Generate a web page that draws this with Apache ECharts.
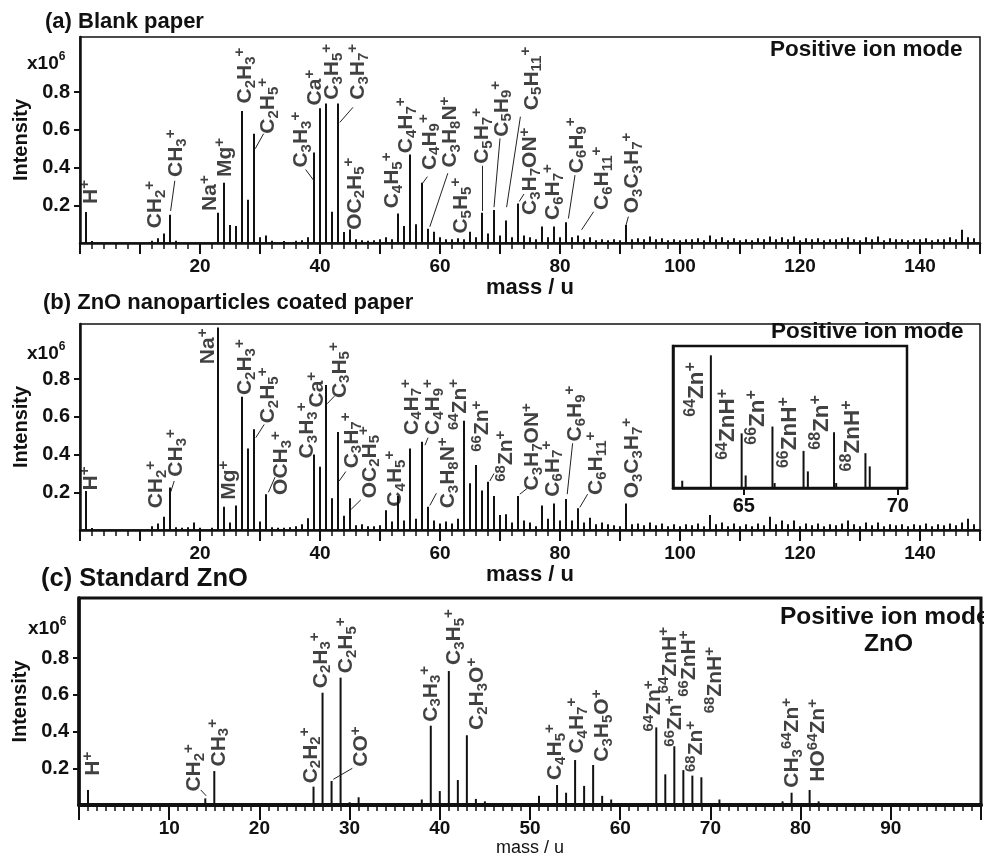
<!DOCTYPE html>
<html>
<head>
<meta charset="utf-8">
<script src="https://cdn.jsdelivr.net/npm/echarts@6.0.0/dist/echarts.min.js"></script>
<style>
  html, body { margin: 0; padding: 0; background: #fff; }
  #chart { width: 984px; height: 858px; }
</style>
</head>
<body>
<div id="chart"></div>
<script>
// ---- data: [mass, intensity (x10^6)] ----
const peaksA = [[1,0.165],[12,0.012],[13,0.025],[14,0.05],[15,0.15],[23,0.16],[24,0.32],[25,0.095],[26,0.09],[27,0.70],[28,0.23],[29,0.58],[30,0.03],[31,0.04],
  [38,0.03],[39,0.48],[40,0.715],[41,0.74],[42,0.166],[43,0.74],[44,0.058],[45,0.072],[51,0.03],[52,0.02],[53,0.157],[54,0.09],[55,0.47],[56,0.10],[57,0.32],
  [58,0.075],[59,0.06],[60,0.03],[61,0.02],[62,0.02],[63,0.025],[64,0.02],[65,0.06],[66,0.03],[67,0.16],[68,0.05],[69,0.175],[70,0.04],[71,0.12],[72,0.03],
  [73,0.21],[74,0.04],[75,0.03],[76,0.02],[77,0.087],[78,0.03],[79,0.087],[80,0.03],[81,0.11],[82,0.03],[83,0.04],[84,0.02],[85,0.03],[86,0.015],[87,0.02],
  [88,0.015],[89,0.02],[90,0.015],[91,0.095]];
const noiseA = [[2,0.01],[16,0.012],[32,0.012],[34,0.01],[36,0.012],[37,0.015],[46,0.02],[47,0.015],[48,0.012],[49,0.015],[50,0.02],
  [92,0.02],[93,0.025],[94,0.02],[95,0.035],[96,0.02],[97,0.025],[98,0.015],[99,0.02],[100,0.015],[101,0.02],[102,0.02],[103,0.025],[104,0.015],[105,0.04],
  [106,0.02],[107,0.03],[108,0.015],[109,0.025],[110,0.015],[111,0.02],[112,0.015],[113,0.025],[114,0.02],[115,0.035],[116,0.02],[117,0.03],[118,0.02],
  [119,0.035],[120,0.015],[121,0.025],[122,0.02],[123,0.025],[124,0.015],[125,0.02],[126,0.02],[127,0.025],[128,0.03],[129,0.02],[130,0.015],[131,0.03],
  [132,0.02],[133,0.035],[134,0.015],[135,0.025],[136,0.02],[137,0.02],[138,0.015],[139,0.02],[140,0.02],[141,0.025],[142,0.015],[143,0.02],[144,0.02],
  [145,0.03],[146,0.02],[147,0.07],[148,0.03],[149,0.025]];

const peaksB = [[1,0.207],[12,0.02],[13,0.035],[14,0.07],[15,0.225],[19,0.04],[23,1.075],[24,0.124],[25,0.04],[26,0.13],[27,0.707],[28,0.433],[29,0.534],
  [30,0.045],[31,0.19],[32,0.015],[37,0.03],[38,0.062],[39,0.40],[40,0.336],[41,0.77],[42,0.168],[43,0.52],[44,0.076],[45,0.168],[46,0.025],[47,0.03],
  [48,0.02],[49,0.02],[50,0.025],[51,0.105],[52,0.045],[53,0.18],[54,0.05],[55,0.433],[56,0.06],[57,0.468],[58,0.124],[59,0.05],[60,0.035],[61,0.045],
  [62,0.035],[63,0.06],[64,0.58],[65,0.248],[66,0.345],[67,0.21],[68,0.256],[69,0.18],[70,0.08],[71,0.083],[72,0.04],[73,0.18],[74,0.05],[75,0.04],
  [76,0.02],[77,0.13],[78,0.06],[79,0.14],[80,0.05],[81,0.165],[82,0.05],[83,0.115],[84,0.04],[85,0.065],[86,0.03],[87,0.04],[88,0.03],[89,0.025],
  [90,0.02],[91,0.14]];
const noiseB = [[2,0.01],[16,0.015],[17,0.012],[18,0.015],[20,0.012],[22,0.012],[33,0.012],[34,0.012],[35,0.015],[36,0.02],
  [92,0.03],[93,0.035],[94,0.025],[95,0.04],[96,0.025],[97,0.035],[98,0.02],[99,0.03],[100,0.02],[101,0.03],[102,0.025],[103,0.035],[104,0.02],[105,0.08],
  [106,0.03],[107,0.04],[108,0.02],[109,0.035],[110,0.02],[111,0.03],[112,0.02],[113,0.035],[114,0.025],[115,0.07],[116,0.03],[117,0.05],[118,0.03],
  [119,0.05],[120,0.02],[121,0.035],[122,0.025],[123,0.035],[124,0.02],[125,0.03],[126,0.025],[127,0.035],[128,0.05],[129,0.03],[130,0.02],[131,0.04],
  [132,0.025],[133,0.04],[134,0.02],[135,0.03],[136,0.025],[137,0.03],[138,0.02],[139,0.03],[140,0.025],[141,0.035],[142,0.02],[143,0.03],[144,0.025],
  [145,0.035],[146,0.025],[147,0.04],[148,0.06],[149,0.03]];

const peaksInset = [[63.0,0.032],[63.93,0.583],[64.93,0.240],[65.06,0.055],[65.93,0.270],[66.0,0.022],[66.94,0.163],[67.08,0.073],
  [67.93,0.245],[68.0,0.022],[68.95,0.153],[69.09,0.095]];

const peaksC = [[1,0.082],[14,0.036],[15,0.185],[26,0.10],[27,0.612],[28,0.131],[29,0.694],[30,0.015],[31,0.042],[38,0.03],[39,0.432],[40,0.076],
  [41,0.73],[42,0.136],[43,0.38],[44,0.033],[45,0.02],[51,0.05],[53,0.109],[54,0.067],[55,0.245],[56,0.104],[57,0.218],[58,0.05],[59,0.03],
  [64,0.423],[65,0.167],[66,0.32],[67,0.19],[68,0.16],[69,0.151],[71,0.03],[78,0.02],[79,0.067],[81,0.082],[82,0.02]];

// ---- peak labels: [formula, mass position, bottom of text] ----
const labelsA = [['H^+',1.8,0.207],['CH_2^+',12.5,0.078],['CH_3^+',16,0.35],['Na^+',21.7,0.17],['Mg^+',24.2,0.35],['C_2H_3^+',27.5,0.74],
  ['C_2H_5^+',31.4,0.58],['C_3H_3^+',36.9,0.40],['Ca^+',39.2,0.73],['C_3H_5^+',42,0.76],['C_3H_7^+',46.4,0.76],['OC_2H_5^+',45.8,0.07],
  ['C_4H_5^+',52,0.184],['C_4H_7^+',54.4,0.476],['C_4H_9^+',58.3,0.387],['C_3H_8N^+',61.7,0.40],['C_5H_5^+',63.6,0.05],['C_5H_7^+',67,0.42],
  ['C_5H_9^+',70.3,0.564],['C_3H_7ON^+',75,0.149],['C_5H_{11}^+',75.3,0.705],['C_6H_7^+',78.9,0.122],['C_6H_9^+',82.8,0.37],
  ['C_6H_{11}^+',87,0.175],['O_3C_3H_7^+',92,0.158]];
const leadersA = [[15.1,0.17,15.8,0.33],[29.2,0.50,30.6,0.58],[39,0.33,37.6,0.39],[43.3,0.64,45.5,0.72],[57.1,0.317,57.9,0.352],
  [58.3,0.086,61.3,0.37],[67,0.17,67,0.41],[69,0.19,70,0.555],[73.2,0.22,74,0.26],[71.1,0.19,73.4,0.67],[81.4,0.13,82.5,0.36],
  [83.6,0.07,85.6,0.166],[91,0.095,91.4,0.14]];

const labelsB = [['H^+',1.8,0.21],['CH_2^+',12.7,0.115],['CH_3^+',16.1,0.283],['Na^+',21.4,0.88],['Mg^+',24.9,0.16],['C_2H_3^+',27.5,0.716],
  ['C_2H_5^+',31.4,0.566],['OCH_3^+',33.6,0.186],['C_3H_3^+',37.9,0.38],['Ca^+',39.6,0.65],['C_3H_5^+',43.3,0.70],['C_3H_7^+',45.3,0.327],
  ['OC_2H_5^+',48.3,0.168],['C_4H_5^+',52.5,0.124],['C_4H_7^+',55.3,0.504],['C_4H_9^+',58.9,0.504],['C_3H_8N^+',61.4,0.115],
  ['^{64}Zn^+',63.3,0.53],['^{66}Zn^+',67.0,0.415],['^{68}Zn^+',71.0,0.256],['C_3H_7ON^+',75.4,0.21],['C_6H_7^+',78.8,0.177],
  ['C_6H_9^+',82.6,0.47],['C_6H_{11}^+',86,0.186],['O_3C_3H_7^+',92,0.168]];
const leadersB = [[15.1,0.2,15.7,0.26],[29.3,0.49,30.7,0.56],[31.4,0.2,32.5,0.28],[41.2,0.67,42.4,0.71],[43.2,0.26,44.3,0.31],
  [45.2,0.11,46.8,0.16],[57.5,0.45,58,0.49],[58.3,0.13,59.4,0.195],[68.3,0.26,69,0.30],[73.3,0.19,74.5,0.22],[81.2,0.19,82.1,0.46],
  [83.3,0.12,84.6,0.19]];

const labelsInset = [['^{64}Zn^+',63.47,0.313],['^{64}ZnH^+',64.49,0.124],['^{66}Zn^+',65.46,0.19],['^{66}ZnH^+',66.49,0.0875],
  ['^{68}Zn^+',67.52,0.168],['^{68}ZnH^+',68.54,0.073]];

const labelsC = [['H^+',1.55,0.16],['CH_2^+',12.75,0.073],['CH_3^+',15.5,0.21],['C_2H_2^+',25.7,0.118],['C_2H_3^+',26.8,0.636],
  ['C_2H_5^+',29.65,0.718],['CO^+',31.3,0.209],['C_3H_3^+',39.0,0.454],['C_3H_5^+',41.6,0.763],['C_2H_3O^+',44.2,0.409],
  ['C_4H_5^+',52.8,0.136],['C_4H_7^+',55.2,0.28],['C_3H_5O^+',58.05,0.236],['^{64}Zn^+',63.8,0.40],['^{64}ZnH^+',65.5,0.609],
  ['^{66}Zn^+',66.1,0.318],['^{66}ZnH^+',67.7,0.59],['^{68}Zn^+',68.4,0.18],['^{68}ZnH^+',70.5,0.50],['CH_3^{64}Zn^+',79.05,0.094],
  ['HO^{64}Zn^+',82.0,0.127]];
const leadersC = [[13.5,0.082,14.1,0.05],[28.2,0.14,30.3,0.2]];

const yTicks = [0.2, 0.4, 0.6, 0.8];

// ---- helpers ----
const FONT = '"Liberation Sans", Arial, sans-serif';
const INK = '#111';

function rich(s) {
  let out = '';
  const re = /(_\{[^}]*\}|_.|\^\{[^}]*\}|\^.|[^_^]+)/g;
  let m;
  while ((m = re.exec(s))) {
    const t = m[0];
    if (t[0] === '_') out += '{sub|' + t.replace(/^_\{?|\}$/g, '') + '}';
    else if (t[0] === '^') out += '{sup|' + t.replace(/^\^\{?|\}$/g, '') + '}';
    else out += '{n|' + t + '}';
  }
  return out;
}

function richStyles(size, small) {
  const lh = Math.round(size * 1.25);
  return {
    n: { fontFamily: FONT, fontWeight: 'bold', fontSize: size, color: INK, lineHeight: lh, verticalAlign: 'middle' },
    sub: { fontFamily: FONT, fontWeight: 'bold', fontSize: small, color: INK, lineHeight: small, verticalAlign: 'bottom' },
    sup: { fontFamily: FONT, fontWeight: 'bold', fontSize: small, color: INK, lineHeight: small, verticalAlign: 'top' }
  };
}

function bars(i, list) {
  return { type: 'bar', xAxisIndex: i, yAxisIndex: i, barWidth: 2, data: list, silent: true,
    itemStyle: { color: INK }, z: 3 };
}

function labels(i, list, size, small) {
  return { type: 'scatter', xAxisIndex: i, yAxisIndex: i, symbolSize: 1, silent: true, z: 5,
    itemStyle: { color: 'rgba(0,0,0,0)' },
    data: list.map(l => ({ name: l[0], value: [l[1], l[2]] })),
    label: { show: true, position: 'inside', align: 'left', verticalAlign: 'middle', rotate: 90,
      formatter: p => rich(p.name), rich: richStyles(size, small) } };
}

function leaders(i, list) {
  return { type: 'lines', coordinateSystem: 'cartesian2d', xAxisIndex: i, yAxisIndex: i, silent: true, z: 4,
    data: list.map(d => ({ coords: [[d[0], d[1]], [d[2], d[3]]] })),
    lineStyle: { color: '#222', width: 1, opacity: 1 } };
}

const boldText = { fontFamily: FONT, fontWeight: 'bold', color: INK };

function xAxisMain(i, max, minorSplit, labelStep, nameStyle, nameGap, tickLen, lw) {
  return {
    gridIndex: i, type: 'value', min: 0, max: max, interval: 10,
    axisLine: { onZero: false, lineStyle: { color: INK, width: lw } },
    axisTick: { length: tickLen, lineStyle: { color: INK, width: 2 } },
    minorTick: { show: true, splitNumber: minorSplit, length: 6, lineStyle: { color: INK, width: 1.5 } },
    axisLabel: Object.assign({ fontSize: 19, margin: 14,
      formatter: v => (v > 0 && v < max && v % labelStep === 0) ? String(v) : '' }, boldText),
    splitLine: { show: false },
    name: 'mass / u', nameLocation: 'middle', nameGap: nameGap, nameTextStyle: nameStyle
  };
}

function yAxisMain(i, max, lw) {
  return {
    gridIndex: i, type: 'value', min: 0, max: max, interval: 0.2,
    axisLine: { show: true, onZero: false, lineStyle: { color: INK, width: lw } },
    axisTick: { show: true, length: 6, customValues: yTicks, lineStyle: { color: INK, width: 2 } },
    axisLabel: Object.assign({ fontSize: 20, margin: 10, customValues: yTicks,
      formatter: v => v.toFixed(1) }, boldText),
    splitLine: { show: false },
    name: 'Intensity', nameLocation: 'middle', nameGap: 46,
    nameTextStyle: Object.assign({ fontSize: 20 }, boldText)
  };
}

const x106 = {
  a: { fontFamily: FONT, fontWeight: 'bold', fontSize: 19, color: INK, lineHeight: 22, verticalAlign: 'bottom' },
  b: { fontFamily: FONT, fontWeight: 'bold', fontSize: 12, color: INK, lineHeight: 12, verticalAlign: 'top' }
};

function titleAt(text, left, top, size) {
  return { text: text, left: left, top: top, padding: 0,
    textStyle: Object.assign({ fontSize: size }, boldText) };
}

const chart = echarts.init(document.getElementById('chart'), null, { renderer: 'canvas' });

chart.setOption({
  animation: false,
  backgroundColor: '#fff',
  title: [
    titleAt('(a) Blank paper', 45, 11, 22),
    titleAt('Positive ion mode', 770, 38, 22.5),
    { text: '{a|x10}{b|6}', left: 27, top: 51, padding: 0, textStyle: { rich: x106 } },
    titleAt('(b) ZnO nanoparticles coated paper', 43, 292, 22),
    titleAt('Positive ion mode', 771, 320, 22.5),
    { text: '{a|x10}{b|6}', left: 27, top: 341, padding: 0, textStyle: { rich: x106 } },
    titleAt('(c) Standard ZnO', 41, 566, 25.5),
    titleAt('Positive ion mode', 780, 605, 24.5),
    titleAt('ZnO', 864, 632, 24.5),
    { text: '{a|x10}{b|6}', left: 28, top: 616, padding: 0, textStyle: { rich: x106 } }
  ],
  grid: [
    { left: 80, top: 37, width: 900, height: 206, show: true, borderColor: INK, borderWidth: 1.5, backgroundColor: 'transparent' },
    { left: 80, top: 324, width: 900, height: 206, show: true, borderColor: INK, borderWidth: 1.5, backgroundColor: 'transparent' },
    { left: 673, top: 346, width: 234, height: 142, show: true, borderColor: INK, borderWidth: 2.5, backgroundColor: '#fff', z: 6 },
    { left: 79, top: 598, width: 907, height: 207, show: true, borderColor: INK, borderWidth: 3, backgroundColor: 'transparent' }
  ],
  xAxis: [
    xAxisMain(0, 150, 5, 20, Object.assign({ fontSize: 22 }, boldText), 31, 11, 2.5),
    xAxisMain(1, 150, 5, 20, Object.assign({ fontSize: 22 }, boldText), 34, 11, 2.5),
    {
      gridIndex: 2, type: 'value', min: 62.7, max: 70.3, z: 7,
      axisLine: { onZero: false, lineStyle: { color: INK, width: 2.5 } },
      axisTick: { length: 7, customValues: [65, 70], lineStyle: { color: INK, width: 2 } },
      axisLabel: Object.assign({ fontSize: 20, margin: 8, customValues: [65, 70], formatter: v => String(v) }, boldText),
      splitLine: { show: false }
    },
    xAxisMain(3, 100, 10, 10, { fontFamily: FONT, fontSize: 18, color: INK }, 34, 15, 4)
  ],
  yAxis: [
    yAxisMain(0, 1.093, 2.5),
    yAxisMain(1, 1.093, 2.5),
    {
      gridIndex: 2, type: 'value', min: 0, max: 0.624, z: 7,
      axisLine: { show: true, onZero: false, lineStyle: { color: INK, width: 2.5 } },
      axisTick: { show: false }, axisLabel: { show: false }, splitLine: { show: false }
    },
    yAxisMain(3, 1.128, 3.5)
  ],
  series: [
    bars(0, peaksA.concat(noiseA)),
    labels(0, labelsA, 21, 15),
    leaders(0, leadersA),
    bars(1, peaksB.concat(noiseB)),
    labels(1, labelsB, 21, 15),
    leaders(1, leadersB),
    Object.assign(bars(2, peaksInset), { z: 8 }),
    Object.assign(labels(2, labelsInset, 22.5, 16), { z: 9 }),
    bars(3, peaksC),
    labels(3, labelsC, 21, 15),
    leaders(3, leadersC)
  ]
});
</script>
</body>
</html>
